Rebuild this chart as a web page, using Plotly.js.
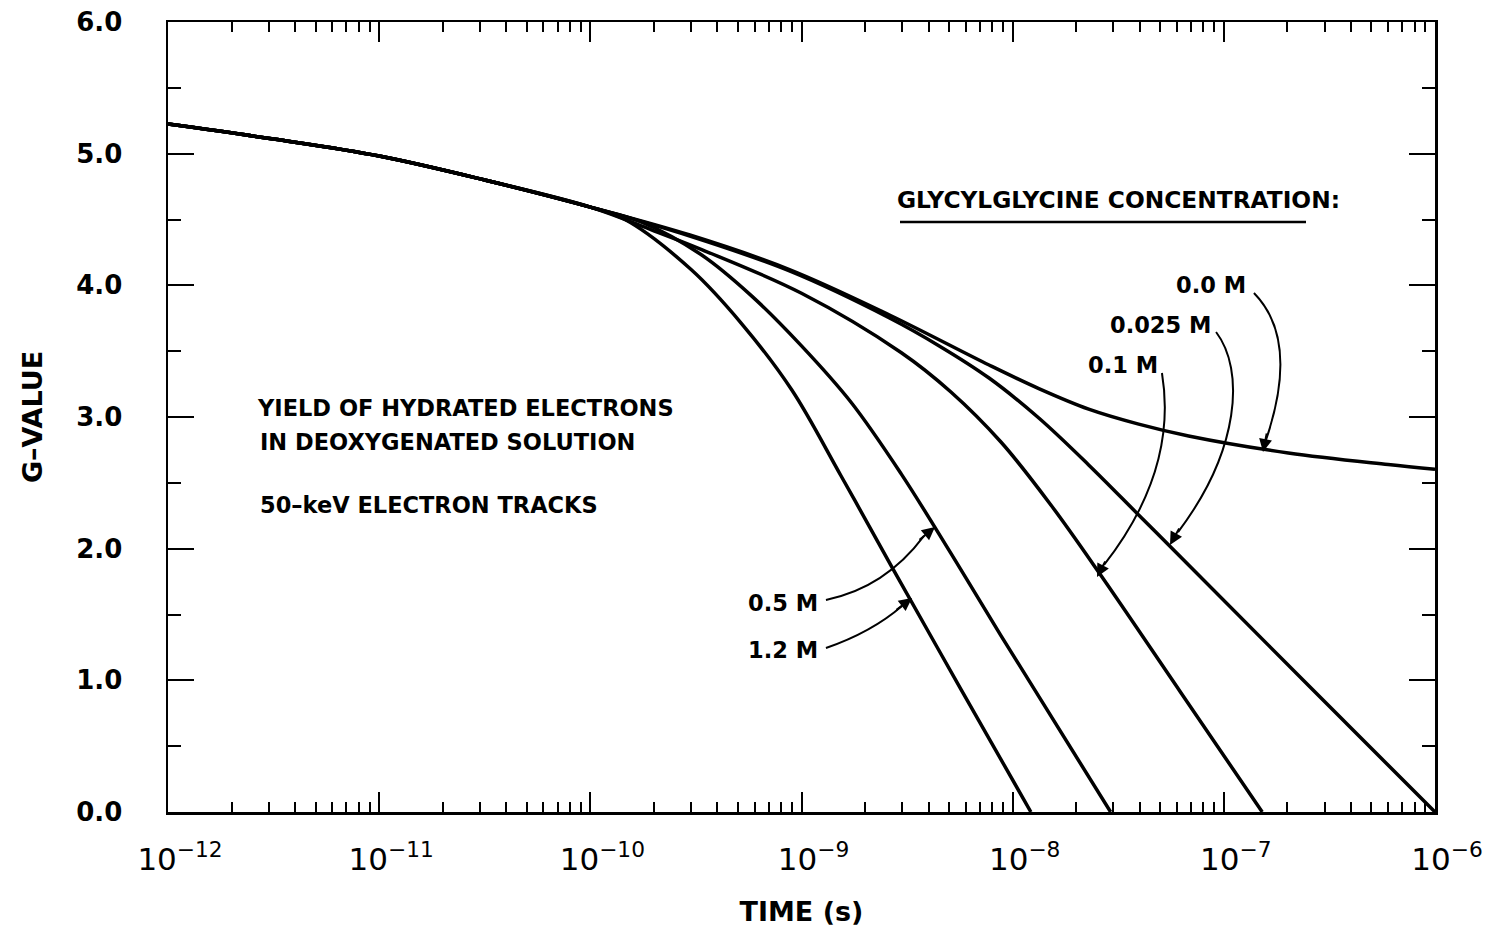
<!DOCTYPE html>
<html>
<head>
<meta charset="utf-8">
<script src="https://cdn.plot.ly/plotly-3.0.1.min.js"></script>
<style>html,body{margin:0;padding:0;background:#fff;}#chart{width:1486px;height:935px;}</style>
</head>
<body>
<div id="chart"></div>
<script>
// ---- data ----
const seriesNames = ["0.0 M", "0.025 M", "0.1 M", "0.5 M", "1.2 M"];

const time_00 = [1e-12, 3.16e-12, 1e-11, 3.16e-11, 1e-10, 2.96e-10, 8.77e-10, 2.61e-9, 7.73e-9, 1.33e-8, 2.29e-8, 3.95e-8, 6.81e-8, 2.02e-7, 6.0e-7, 1e-6];
const g_00    = [5.225, 5.111, 4.982, 4.800, 4.594, 4.382, 4.120, 3.775, 3.395, 3.216, 3.060, 2.946, 2.856, 2.727, 2.639, 2.603];

const time_0025 = [1e-12, 3.16e-12, 1e-11, 3.16e-11, 1e-10, 2.96e-10, 8.77e-10, 2.61e-9, 4.49e-9, 7.73e-9, 1.33e-8, 2.29e-8, 3.95e-8, 6.81e-8, 2.56e-7, 1e-6];
const g_0025    = [5.225, 5.111, 4.982, 4.800, 4.594, 4.374, 4.109, 3.752, 3.540, 3.296, 2.992, 2.636, 2.256, 1.876, 0.949, 0.0];

const time_01 = [1e-12, 3.16e-12, 1e-11, 3.16e-11, 1e-10, 1.96e-10, 3.39e-10, 1e-9, 2.96e-9, 5.1e-9, 8.8e-9, 1.52e-8, 2.61e-8, 6.24e-8, 1.52e-7];
const g_01    = [5.225, 5.111, 4.982, 4.800, 4.594, 4.42, 4.27, 3.94, 3.49, 3.19, 2.81, 2.33, 1.80, 0.91, 0.0];

const time_05 = [1e-12, 3.16e-12, 1e-11, 3.16e-11, 1e-10, 1.75e-10, 3.37e-10, 5.8e-10, 1e-9, 1.72e-9, 2.96e-9, 5.12e-9, 8.8e-9, 2.91e-8];
const g_05    = [5.225, 5.111, 4.982, 4.800, 4.594, 4.48, 4.23, 3.92, 3.54, 3.11, 2.57, 1.96, 1.34, 0.0];

const time_12 = [1e-12, 3.16e-12, 1e-11, 3.16e-11, 1e-10, 1.46e-10, 3.0e-10, 5.2e-10, 9e-10, 1.54e-9, 2.66e-9, 5.7e-9, 1.22e-8];
const g_12    = [5.225, 5.111, 4.982, 4.800, 4.594, 4.50, 4.12, 3.71, 3.205, 2.552, 1.87, 0.93, 0.0];

const xTickVals = [1e-12, 1e-11, 1e-10, 1e-9, 1e-8, 1e-7, 1e-6];
const xTickText = ["10<sup>\u221212</sup>", "10<sup>\u221211</sup>", "10<sup>\u221210</sup>", "10<sup>\u22129</sup>", "10<sup>\u22128</sup>", "10<sup>\u22127</sup>", "10<sup>\u22126</sup>"];

// ---- layout geometry ----
const W = 1486, H = 935;
const M = {l: 168, r: 51, t: 22, b: 123};
const PW = W - M.l - M.r, PH = H - M.t - M.b;
function px(x, y) { return [(x - M.l) / PW, (H - M.b - y) / PH]; }
function P(x, y) { const p = px(x, y); return p[0].toFixed(4) + "," + p[1].toFixed(4); }

const times = [time_00, time_0025, time_01, time_05, time_12];
const gs = [g_00, g_0025, g_01, g_05, g_12];
const traces = seriesNames.map((n, i) => ({
  x: times[i], y: gs[i], name: n, type: "scatter", mode: "lines",
  line: {color: "#000", width: 3.5, shape: "spline", smoothing: 1.0},
  hoverinfo: "skip", showlegend: false
}));

const FONT = "DejaVu Sans";
const txt = (x, y, text, anchor, size) => {
  const p = px(x, y);
  return {xref: "paper", yref: "paper", x: p[0], y: p[1], text: text, showarrow: false,
          xanchor: anchor || "left", yanchor: "middle",
          font: {family: FONT, size: size || 22, color: "#000", weight: "bold"}};
};
const head = (tipX, tipY, tailX, tailY) => {
  const p = px(tipX, tipY);
  return {xref: "paper", yref: "paper", x: p[0], y: p[1], text: "", showarrow: true,
          ax: tailX - tipX, ay: tailY - tipY, arrowhead: 2, arrowsize: 1.3, arrowwidth: 2,
          arrowcolor: "#000", standoff: 0};
};

const annotations = [
  txt(255, 408, "YIELD OF HYDRATED ELECTRONS", "left", 22.5),
  txt(258, 442, "IN DEOXYGENATED SOLUTION", "left", 22.5),
  txt(258, 505, "50\u2013keV ELECTRON TRACKS", "left", 22.5),
  txt(895, 200, "GLYCYLGLYCINE CONCENTRATION:", "left", 23.3),
  txt(1248, 285, "0.0 M", "right", 22.5),
  txt(1213, 325, "0.025 M", "right", 22.5),
  txt(1160, 365, "0.1 M", "right", 22.5),
  txt(820, 603, "0.5 M", "right", 22.5),
  txt(820, 650, "1.2 M", "right", 22.5),
  head(1263, 452, 1267, 432),
  head(1170, 545, 1180, 527),
  head(1097, 577, 1106, 560),
  head(935, 527, 918, 541),
  head(912, 598, 895, 611)
];

const arrowLine = {color: "#000", width: 2};
const shapes = [
  {type: "line", xref: "paper", yref: "paper", x0: px(900,222)[0], y0: px(900,222)[1], x1: px(1306,222)[0], y1: px(1306,222)[1], line: {color: "#000", width: 2.5}},
  {type: "path", xref: "paper", yref: "paper", path: "M " + P(1254,293) + " Q " + P(1300,340) + " " + P(1266,440), line: arrowLine},
  {type: "path", xref: "paper", yref: "paper", path: "M " + P(1216,332) + " C " + P(1245,370) + " " + P(1240,450) + " " + P(1178,532), line: arrowLine},
  {type: "path", xref: "paper", yref: "paper", path: "M " + P(1162,373) + " Q " + P(1178,470) + " " + P(1104,565), line: arrowLine},
  {type: "path", xref: "paper", yref: "paper", path: "M " + P(826,600) + " Q " + P(885,588) + " " + P(924,536), line: arrowLine},
  {type: "path", xref: "paper", yref: "paper", path: "M " + P(826,648) + " Q " + P(872,632) + " " + P(902,606), line: arrowLine}
];

const layout = {
  width: W, height: H,
  margin: M,
  paper_bgcolor: "#fff", plot_bgcolor: "#fff",
  showlegend: false,
  font: {family: FONT, color: "#000"},
  xaxis: {
    type: "log", range: [-12, -6],
    tickmode: "array", tickvals: xTickVals, ticktext: xTickText,
    ticks: "inside", ticklen: 20, tickwidth: 2, tickcolor: "#000",
    minor: {dtick: "D1", ticks: "inside", ticklen: 10, tickwidth: 2, tickcolor: "#000", showgrid: false},
    showline: true, linewidth: 2.5, linecolor: "#000", mirror: "ticks",
    showgrid: false, zeroline: false,
    tickfont: {family: FONT, size: 31, color: "#000"},
    ticklabelstandoff: 18, ticklabelshift: 12,
    title: {text: "TIME (s)", font: {family: FONT, size: 27, color: "#000", weight: "bold"}, standoff: 27}
  },
  yaxis: {
    range: [0, 6], dtick: 1, tickformat: ".1f",
    ticks: "inside", ticklen: 26, tickwidth: 2, tickcolor: "#000",
    minor: {dtick: 0.5, ticks: "inside", ticklen: 13, tickwidth: 2, tickcolor: "#000", showgrid: false},
    showline: true, linewidth: 2.5, linecolor: "#000", mirror: "ticks",
    showgrid: false, zeroline: false,
    tickfont: {family: FONT, size: 26, color: "#000", weight: "bold"},
    ticklabelstandoff: 38,
    title: {text: "G\u2013VALUE", font: {family: FONT, size: 27, color: "#000", weight: "bold"}, standoff: 26}
  },
  annotations: annotations,
  shapes: shapes
};

Plotly.newPlot("chart", traces, layout, {staticPlot: true, displayModeBar: false});
</script>
</body>
</html>
